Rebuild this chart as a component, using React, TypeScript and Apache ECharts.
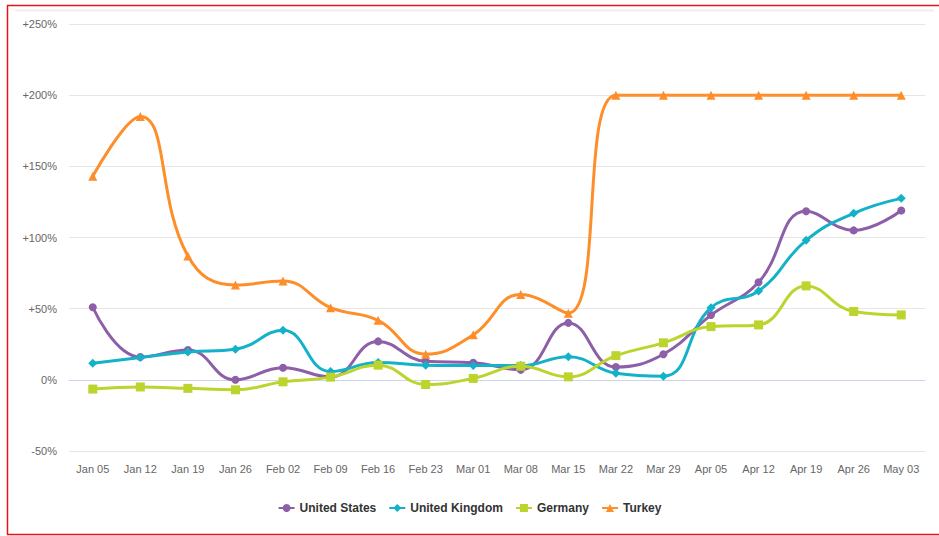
import React, { useEffect, useRef } from "react";
import * as echarts from "echarts";

const categories = [
  "Jan 05", "Jan 12", "Jan 19", "Jan 26", "Feb 02", "Feb 09", "Feb 16", "Feb 23", "Mar 01",
  "Mar 08", "Mar 15", "Mar 22", "Mar 29", "Apr 05", "Apr 12", "Apr 19", "Apr 26", "May 03",
];

const unitedStates = [51, 16, 21, 0, 8.5, 2, 27, 13, 12, 7, 40, 9, 18, 45.5, 68.5, 118.5, 105, 119];
const unitedKingdom = [11.7, 15.7, 19.6, 21.5, 34.8, 5.8, 12.1, 10.3, 10, 10, 16.3, 4.7, 2.6, 50.7, 62.4, 98, 117, 127.5];
const germany = [-6.5, -5, -6, -7, -1.4, 1.9, 10.3, -3.3, 1, 9.6, 2.1, 17, 26, 37.4, 38.6, 66, 48, 45.6];
const turkey = [143, 185, 87, 66.6, 69.4, 50.7, 41.8, 18, 31.6, 60, 46.8, 200, 200, 200, 200, 200, 200, 200];

const yMin = -50;
const yMax = 250;
const yStep = 50;

const FONT = "'Liberation Sans Narrow', 'Arial Narrow', 'Liberation Sans', Arial, sans-serif";

export default function App() {
  const ref = useRef<HTMLDivElement>(null);

  useEffect(() => {
    if (!ref.current) return;
    const chart = echarts.init(ref.current, null, { renderer: "svg" });

    const mk = (name: string, data: number[], color: string, symbol: string, size: number) => ({
      name,
      type: "line",
      data,
      smooth: 0.45,
      symbol,
      symbolSize: size,
      showSymbol: true,
      lineStyle: { width: 3, color },
      itemStyle: { color },
      emphasis: { disabled: true },
    });

    chart.setOption({
      animation: false,
      backgroundColor: "#ffffff",
      textStyle: { fontFamily: FONT },
      grid: { left: 69, right: 14, top: 24, bottom: 85, containLabel: false },
      xAxis: {
        type: "category",
        data: categories,
        boundaryGap: true,
        axisLine: { show: true, lineStyle: { color: "#ccd6eb", width: 1 } },
        axisTick: { show: false },
        axisLabel: { color: "#666666", fontSize: 11, margin: 12, fontFamily: FONT, interval: 0 },
        splitLine: { show: false },
      },
      yAxis: {
        type: "value",
        min: yMin,
        max: yMax,
        interval: yStep,
        axisLine: { show: false },
        axisTick: { show: false },
        axisLabel: {
          color: "#666666",
          fontSize: 11,
          margin: 12,
          fontFamily: FONT,
          formatter: (v: number) => (v > 0 ? "+" + v + "%" : v === 0 ? "0%" : "-" + Math.abs(v) + "%"),
        },
        splitLine: { show: true, lineStyle: { color: "#e6e6e6", width: 1 } },
      },
      legend: {
        bottom: 17,
        left: "center",
        itemWidth: 16,
        itemHeight: 10,
        itemGap: 12,
        textStyle: { color: "#333333", fontSize: 12, fontWeight: "bold", fontFamily: FONT },
        data: ["United States", "United Kingdom", "Germany", "Turkey"],
      },
      graphic: [
        { type: "line", shape: { x1: 15, y1: 10.5, x2: 934, y2: 10.5 }, style: { stroke: "#eeeeee", lineWidth: 2 }, silent: true },
        { type: "line", shape: { x1: 7, y1: 5.5, x2: 939, y2: 5.5 }, style: { stroke: "#e8141c", lineWidth: 1.5 }, silent: true },
        { type: "line", shape: { x1: 7.5, y1: 5, x2: 7.5, y2: 535 }, style: { stroke: "#e8141c", lineWidth: 1.5 }, silent: true },
        { type: "line", shape: { x1: 7, y1: 534.5, x2: 939, y2: 534.5 }, style: { stroke: "#e8141c", lineWidth: 1.5 }, silent: true },
      ],
      series: [
        mk("United States", unitedStates, "#8c5fa8", "circle", 8),
        mk("United Kingdom", unitedKingdom, "#14b2c8", "diamond", 9),
        mk("Germany", germany, "#bdd42e", "rect", 9),
        mk("Turkey", turkey, "#fd8e2a", "triangle", 9),
      ],
    });

    return () => chart.dispose();
  }, []);

  return (
    <div
      ref={ref}
      style={{ position: "absolute", left: 0, top: 0, width: 939, height: 536 }}
    />
  );
}
